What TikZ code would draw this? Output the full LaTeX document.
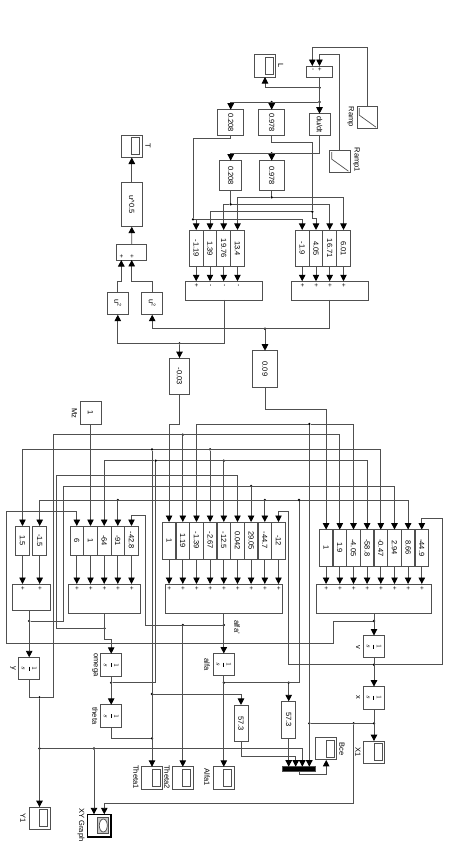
\documentclass[tikz,border=0pt]{standalone}
\usepackage{fontspec}
\setmainfont{Liberation Sans}
\usepackage{xcolor}
\usepackage{amsmath,amssymb}
\usepackage{tikz}
\usetikzlibrary{arrows.meta,positioning,calc}
\definecolor{wirecol}{HTML}{505050}
\definecolor{panel}{HTML}{C8C8C8}
\newcommand{\rot}[1]{\rotatebox{-90}{#1}}

\begin{document}
\begin{tikzpicture}[x=1pt,y=-1pt,every node/.style={font=\fontsize{7.5}{8}\selectfont,align=center,inner sep=0pt,outer sep=0pt},
  box/.style={draw=wirecol,line width=.9pt,fill=white},
  sz/.style 2 args={minimum width=#1pt,minimum height=#2pt},
  integ/.style={box,sz={21}{22.4}},
  viewer/.style={box,sz={21}{22.4},path picture={\draw[wirecol,line width=.7pt,fill=white] ([shift={(0,-8.5)}]path picture bounding box.center) rectangle ([shift={(8,8.5)}]path picture bounding box.center);}},
  lab/.style={font=\fontsize{7.5}{8}\selectfont},
  sign/.style={font=\fontsize{6.5}{7}\selectfont},
  dot/.style={circle,fill=black,minimum size=2.6pt},
  wire/.style={draw=wirecol,line width=.9pt},
  arr/.style={wire,-{Triangle[length=6.5pt,width=6.5pt,color=black]}}]
  \useasboundingbox (0,0) rectangle (450,857);

  % Length and its derivative
  \node[viewer] (scL) at (265,65.8) {};
  \node[lab] (lbL) at (280.7,66) {\rot{L}};
  \node[box,sz={26}{11}] (sumL) at (319.5,71.5) {};
  \coordinate (sumL1) at (312.3,66);
  \node[sign] (sgL1) at (312.3,69.5) {\rot{-}};
  \node[sign] (sgL2) at (319.5,69.5) {\rot{+}};
  \node[box,sz={20.7}{22.3},path picture={\draw[wirecol,line width=.7pt] ([shift={(-8,-9)}]path picture bounding box.center) -- ([shift={(-8,-2)}]path picture bounding box.center) -- ([shift={(8.7,10)}]path picture bounding box.center);}] (rp) at (367.3,117.2) {};
  \node[lab] (lbRp) at (350.7,116.7) {\rot{Ramp}};
  \node[box,sz={21}{22.3},path picture={\draw[wirecol,line width=.7pt] ([shift={(-8,-9)}]path picture bounding box.center) -- ([shift={(-8,-2)}]path picture bounding box.center) -- ([shift={(8.7,10)}]path picture bounding box.center);}] (rpa) at (339.8,161.2) {};
  \node[lab] (lbRpa) at (356.3,160) {\rot{Ramp1}};
  \node[box,sz={21}{22}] (du) at (319.5,124.7) {\rot{du/dt}};
  \node[box,sz={26.4}{26}] (kca) at (230.7,122.7) {\rot{0.208}};
  \node[box,sz={26}{26}] (ksa) at (271.7,122.7) {\rot{0.978}};
  \node[box,sz={22}{29.6}] (kcb) at (230.7,175.5) {\rot{0.208}};
  \node[box,sz={25}{29.6}] (ksb) at (271.7,175.5) {\rot{0.978}};
  \node[dot] (jd1) at (319.5,87.7) {};
  \node[dot] (jd2) at (319.5,102) {};
  \node[dot] (jd3) at (271.7,102) {};
  \node[dot] (jd4) at (271.7,153.3) {};
  \draw[arr] (rp.north) -- (367.3,47.3) -- (312.3,47.3) -- (sumL1);
  \draw[arr] (rpa.north) -- (339.8,54.7) -- (319.5,54.7) -- (sumL.north);
  \draw[arr] (sumL.south) -- (du.north);
  \draw[arr] (jd1) -- (265,87.7) -- (scL.south);
  \draw[arr] (jd2) -- (230.7,102) -- (kca.north);
  \draw[arr] (jd3) -- (ksa.north);
  \draw[arr] (du.south) -- (319.5,153.3) -- (230.7,153.3) -- (kcb.north);
  \draw[arr] (jd4) -- (ksb.north);

  % Upper gains and sums
  \node[box,sz={13.75}{36.7}] (gl1) at (196.2,248.3) {\rot{-1.19}};
  \node[box,sz={13.75}{36.7}] (gl2) at (210,248.3) {\rot{1.39}};
  \node[box,sz={13.75}{36.7}] (gl3) at (223.7,248.3) {\rot{19.76}};
  \node[box,sz={13.75}{36.7}] (gl4) at (237.5,248.3) {\rot{13.4}};
  \node[box,sz={13.75}{36.7}] (gr1) at (302.2,248.3) {\rot{-1.9}};
  \node[box,sz={13.75}{36.7}] (gr2) at (316,248.3) {\rot{4.05}};
  \node[box,sz={13.75}{36.7}] (gr3) at (329.7,248.3) {\rot{16.71}};
  \node[box,sz={13.75}{36.7}] (gr4) at (343.5,248.3) {\rot{6.01}};
  \node[box,sz={77.4}{18.7}] (sl) at (224,290.6) {};
  \node[box,sz={77}{18.7}] (sr) at (329.8,290.6) {};
  \node[sign] (sgl1) at (196.2,285.5) {\rot{+}};
  \node[sign] (sgl2) at (210,285.5) {\rot{-}};
  \node[sign] (sgl3) at (223.7,285.5) {\rot{-}};
  \node[sign] (sgl4) at (237.5,285.5) {\rot{-}};
  \node[sign] (sgr1) at (302.2,285.5) {\rot{+}};
  \node[sign] (sgr2) at (316,285.5) {\rot{+}};
  \node[sign] (sgr3) at (329.7,285.5) {\rot{+}};
  \node[sign] (sgr4) at (343.5,285.5) {\rot{+}};
  \node[dot] (jb1) at (230.7,204.3) {};
  \node[dot] (jb2) at (271.7,197.3) {};
  \node[dot] (jb3) at (193,219.3) {};
  \node[dot] (jb4) at (312.3,211.7) {};
  \draw[wire] (kcb.south) -- (jb1);
  \draw[arr] (jb1) -- (223.7,204.3) -- (gl3.north);
  \draw[arr] (jb1) -- (329.7,204.3) -- (gr3.north);
  \draw[wire] (ksb.south) -- (jb2);
  \draw[arr] (jb2) -- (237.5,197.3) -- (gl4.north);
  \draw[arr] (jb2) -- (343.5,197.3) -- (gr4.north);
  \draw[wire] (kca.south) -- (230.7,138.7) -- (193,138.7) -- (jb3);
  \draw[arr] (jb3) -- (196.2,219.3) -- (gl1.north);
  \draw[arr] (jb3) -- (302.2,219.3) -- (gr1.north);
  \draw[wire] (ksa.south) -- (271.7,142.3) -- (312.3,142.3) -- (jb4);
  \draw[arr] (jb4) -- (312.3,218) -- (316,218) -- (gr2.north);
  \draw[arr] (jb4) -- (210,211.7) -- (gl2.north);
  \draw[arr] (gl1.south) -- (gl1.south |- sl.north);
  \draw[arr] (gl2.south) -- (gl2.south |- sl.north);
  \draw[arr] (gl3.south) -- (gl3.south |- sl.north);
  \draw[arr] (gl4.south) -- (gl4.south |- sl.north);
  \draw[arr] (gr1.south) -- (gr1.south |- sr.north);
  \draw[arr] (gr2.south) -- (gr2.south |- sr.north);
  \draw[arr] (gr3.south) -- (gr3.south |- sr.north);
  \draw[arr] (gr4.south) -- (gr4.south |- sr.north);

  % Resultant T
  \node[viewer] (scT) at (131.8,146.3) {};
  \node[lab] (lbT) at (148,146) {\rot{T}};
  \node[box,sz={21}{44}] (rt) at (131.8,204.7) {\rot{u\textasciicircum 0.5}};
  \node[box,sz={30}{15.3}] (st) at (131.7,252.3) {};
  \coordinate (st1) at (121.3,260);
  \node[sign] (sgt1) at (121.3,256) {\rot{+}};
  \node[sign] (sgt2) at (131.7,256) {\rot{+}};
  \node[box,sz={21}{22.4}] (ua) at (117.8,303.5) {\rot{u\textsuperscript{2}}};
  \node[box,sz={21}{22.4}] (ub) at (152.2,303.5) {\rot{u\textsuperscript{2}}};
  \node[box,sz={20.7}{36.3}] (ka) at (179.5,376.2) {\rot{-0.03}};
  \node[box,sz={24.6}{36.6}] (kb) at (265,369) {\rot{0.09}};
  \node[dot] (jk1) at (179.5,343.3) {};
  \node[dot] (jk2) at (265,328.7) {};
  \draw[arr] (sl.south) -- (224,343.3) -- (117.8,343.3) -- (ua.south);
  \draw[arr] (sr.south) -- (329.8,328.7) -- (152.2,328.7) -- (ub.south);
  \draw[arr] (jk1) -- (ka.north);
  \draw[arr] (jk2) -- (kb.north);
  \draw[arr] (ua.north) -- (117.8,281) -- (121.3,281) -- (st1);
  \draw[arr] (ub.north) -- (152.2,281) -- (131.7,281) -- (st.south);
  \draw[arr] (st.north) -- (rt.south);
  \draw[arr] (rt.north) -- (scT.south);

  % Lower gain rows
  \node[box,sz={21}{22.5}] (mz) at (90.5,413) {\rot{1}};
  \node[lab] (lbMz) at (74.5,413) {\rot{Mz}};
  \node[box,sz={14}{29}] (gy1) at (22.5,540.5) {\rot{1.5}};
  \node[box,sz={14}{29}] (gy2) at (39.7,540.5) {\rot{-1.5}};
  \node[box,sz={13.67}{29}] (go1) at (76.8,540.5) {\rot{6}};
  \node[box,sz={13.67}{29}] (go2) at (90.5,540.5) {\rot{1}};
  \node[box,sz={13.67}{29}] (go3) at (104.2,540.5) {\rot{-64}};
  \node[box,sz={13.67}{29}] (go4) at (117.8,540.5) {\rot{-91}};
  \node[box,sz={13.67}{29}] (go5) at (131.5,540.5) {\rot{-42.8}};
  \node[box,sz={13.67}{37}] (ga1) at (169.1,540.5) {\rot{1}};
  \node[box,sz={13.67}{37}] (ga2) at (182.8,540.5) {\rot{1.19}};
  \node[box,sz={13.67}{37}] (ga3) at (196.5,540.5) {\rot{-1.39}};
  \node[box,sz={13.67}{37}] (ga4) at (210.1,540.5) {\rot{-2.67}};
  \node[box,sz={13.67}{37}] (ga5) at (223.8,540.5) {\rot{-12.5}};
  \node[box,sz={13.67}{37}] (ga6) at (237.5,540.5) {\rot{0.042}};
  \node[box,sz={13.67}{37}] (ga7) at (251.1,540.5) {\rot{29.05}};
  \node[box,sz={13.67}{37}] (ga8) at (264.8,540.5) {\rot{-44.7}};
  \node[box,sz={13.67}{37}] (ga9) at (278.5,540.5) {\rot{-12}};
  \node[box,sz={13.67}{36.4}] (gv1) at (326.1,547.8) {\rot{1}};
  \node[box,sz={13.67}{36.4}] (gv2) at (339.8,547.8) {\rot{1.9}};
  \node[box,sz={13.67}{36.4}] (gv3) at (353.5,547.8) {\rot{-4.05}};
  \node[box,sz={13.67}{36.4}] (gv4) at (367.1,547.8) {\rot{-58.8}};
  \node[box,sz={13.67}{36.4}] (gv5) at (380.8,547.8) {\rot{-0.47}};
  \node[box,sz={13.67}{36.4}] (gv6) at (394.5,547.8) {\rot{2.94}};
  \node[box,sz={13.67}{36.4}] (gv7) at (408.1,547.8) {\rot{8.66}};
  \node[box,sz={13.67}{36.4}] (gv8) at (421.8,547.8) {\rot{-44.9}};

  % Lower sums
  \node[box,sz={37.7}{26}] (sy) at (31.15,597) {};
  \node[box,sz={71.6}{29.3}] (so) at (104.5,598.65) {};
  \node[box,sz={116.3}{29.3}] (sa) at (223.85,598.65) {};
  \node[box,sz={115}{29.3}] (sv) at (374.2,598.65) {};
  \node[sign] (sgy1) at (22.5,588) {\rot{+}};
  \node[sign] (sgy2) at (39.7,588) {\rot{+}};
  \node[sign] (sgo1) at (76.8,588) {\rot{+}};
  \node[sign] (sgo2) at (90.5,588) {\rot{+}};
  \node[sign] (sgo3) at (104.2,588) {\rot{+}};
  \node[sign] (sgo4) at (117.8,588) {\rot{+}};
  \node[sign] (sgo5) at (131.5,588) {\rot{+}};
  \node[sign] (sga1) at (169.1,588) {\rot{+}};
  \node[sign] (sga2) at (182.8,588) {\rot{+}};
  \node[sign] (sga3) at (196.5,588) {\rot{+}};
  \node[sign] (sga4) at (210.1,588) {\rot{+}};
  \node[sign] (sga5) at (223.8,588) {\rot{+}};
  \node[sign] (sga6) at (237.5,588) {\rot{+}};
  \node[sign] (sga7) at (251.1,588) {\rot{+}};
  \node[sign] (sga8) at (264.8,588) {\rot{+}};
  \node[sign] (sga9) at (278.5,588) {\rot{+}};
  \node[sign] (sgv1) at (326.1,588) {\rot{+}};
  \node[sign] (sgv2) at (339.8,588) {\rot{+}};
  \node[sign] (sgv3) at (353.5,588) {\rot{+}};
  \node[sign] (sgv4) at (367.1,588) {\rot{+}};
  \node[sign] (sgv5) at (380.8,588) {\rot{+}};
  \node[sign] (sgv6) at (394.5,588) {\rot{+}};
  \node[sign] (sgv7) at (408.1,588) {\rot{+}};
  \node[sign] (sgv8) at (421.8,588) {\rot{+}};
  \draw[arr] (gy1.south) -- (gy1.south |- sy.north);
  \draw[arr] (gy2.south) -- (gy2.south |- sy.north);
  \draw[arr] (go1.south) -- (go1.south |- so.north);
  \draw[arr] (go2.south) -- (go2.south |- so.north);
  \draw[arr] (go3.south) -- (go3.south |- so.north);
  \draw[arr] (go4.south) -- (go4.south |- so.north);
  \draw[arr] (go5.south) -- (go5.south |- so.north);
  \draw[arr] (ga1.south) -- (ga1.south |- sa.north);
  \draw[arr] (ga2.south) -- (ga2.south |- sa.north);
  \draw[arr] (ga3.south) -- (ga3.south |- sa.north);
  \draw[arr] (ga4.south) -- (ga4.south |- sa.north);
  \draw[arr] (ga5.south) -- (ga5.south |- sa.north);
  \draw[arr] (ga6.south) -- (ga6.south |- sa.north);
  \draw[arr] (ga7.south) -- (ga7.south |- sa.north);
  \draw[arr] (ga8.south) -- (ga8.south |- sa.north);
  \draw[arr] (ga9.south) -- (ga9.south |- sa.north);
  \draw[arr] (gv1.south) -- (gv1.south |- sv.north);
  \draw[arr] (gv2.south) -- (gv2.south |- sv.north);
  \draw[arr] (gv3.south) -- (gv3.south |- sv.north);
  \draw[arr] (gv4.south) -- (gv4.south |- sv.north);
  \draw[arr] (gv5.south) -- (gv5.south |- sv.north);
  \draw[arr] (gv6.south) -- (gv6.south |- sv.north);
  \draw[arr] (gv7.south) -- (gv7.south |- sv.north);
  \draw[arr] (gv8.south) -- (gv8.south |- sv.north);

  % Integrators
  \node[integ] (iy) at (29.2,668.5) {\rot{$\dfrac{1}{s}$}};
  \node[lab] (lby) at (13,668.5) {\rot{y}};
  \node[integ] (io) at (111.2,665) {\rot{$\dfrac{1}{s}$}};
  \node[lab] (lbo) at (95,665) {\rot{omega}};
  \node[integ] (it) at (111.2,716) {\rot{$\dfrac{1}{s}$}};
  \node[lab] (lbt) at (95,716) {\rot{theta}};
  \node[integ] (ia) at (223.8,664.7) {\rot{$\dfrac{1}{s}$}};
  \node[lab] (lba) at (207,664.7) {\rot{alfa}};
  \node[lab] (lbad) at (237,627) {\rot{alfa'}};
  \node[integ] (iv) at (374,646.7) {\rot{$\dfrac{1}{s}$}};
  \node[lab] (lbv) at (358,647) {\rot{v}};
  \node[integ] (ix) at (374,697.8) {\rot{$\dfrac{1}{s}$}};
  \node[lab] (lbx) at (358,697) {\rot{x}};

  % Viewers and gains at the bottom
  \node[box,sz={14}{37}] (gb) at (288.7,719.8) {\rot{57.3}};
  \node[box,sz={14}{36.7}] (gc) at (241,723.3) {\rot{57.3}};
  \node[box,fill=black,sz={33.4}{4.6}] (mux) at (299,769) {};
  \coordinate (m1) at (288.7,766.7);
  \coordinate (m2) at (295.7,766.7);
  \coordinate (m3) at (302.3,766.7);
  \coordinate (m4) at (309.3,766.7);
  \node[viewer] (bce) at (326.2,748.7) {};
  \node[lab] (lbBce) at (342,749) {\rot{Bce}};
  \node[viewer] (scX) at (374,752.3) {};
  \node[lab] (lbX) at (358,752) {\rot{X1}};
  \node[viewer] (th1) at (152,778) {};
  \node[lab] (lbth1) at (136,777) {\rot{Theta1}};
  \node[viewer] (th2) at (182.8,778) {};
  \node[lab] (lbth2) at (167,777) {\rot{Theta2}};
  \node[viewer] (al1) at (223.8,778) {};
  \node[lab] (lbal1) at (207,777) {\rot{Alfa1}};
  \node[viewer] (scY) at (39.5,818.3) {};
  \node[lab] (lbY) at (23,818) {\rot{Y1}};
  \node[box,line width=1.6pt,draw=black,sz={23.3}{22.4},path picture={\draw[wirecol,line width=.7pt,fill=panel] ([shift={(-1.5,-8)}]path picture bounding box.center) rectangle ([shift={(9.5,8)}]path picture bounding box.center); \draw[wirecol,line width=.7pt,fill=white] ([xshift=4pt]path picture bounding box.center) ellipse (4pt and 6.5pt);}] (xy) at (99.3,825.5) {};
  \coordinate (xy1) at (94,814.3);
  \coordinate (xy2) at (104.3,814.3);
  \node[lab] (lbxy) at (81,825) {\rot{XY Graph}};

  % Feedback of v and x
  \node[dot] (jv1) at (374,621) {};
  \node[dot] (jv2) at (374,664.7) {};
  \node[dot] (jx1) at (309.3,424) {};
  \node[dot] (jx2) at (374,723.3) {};
  \node[dot] (jx3) at (353.7,723.3) {};
  \node[dot] (jx4) at (309.3,723.3) {};
  \draw[arr] (sv.south -| iv.north) -- (iv.north);
  \draw[arr] (jv1) -- (333,621) -- (333,643) -- (6,643) -- (6,511.7) -- (76.8,511.7) -- (go1.north);
  \draw[arr] (iv.south) -- (ix.north);
  \draw[arr] (jv2) -- (442.3,664.7) -- (442.3,518.3) -- (421.8,518.3) -- (gv8.north);
  \draw[arr] (jv2) -- (288.7,664.7) -- (288.7,511.7) -- (278.5,511.7) -- (ga9.north);
  \draw[arr] (ix.south) -- (scX.north);
  \draw[wire] (jx2) -- (jx4);
  \draw[arr] (jx1) -- (m4);
  \draw[arr] (jx1) -- (196.5,424) -- (ga3.north);
  \draw[arr] (jx1) -- (353.5,424) -- (gv3.north);
  \draw[arr] (jx3) -- (353.7,803.3) -- (104.3,803.3) -- (xy2);
  \draw[arr] (ka.south) -- (179.5,424) -- (169.1,424) -- (ga1.north);
  \draw[arr] (kb.south) -- (265,409.3) -- (326.1,409.3) -- (gv1.north);
  \draw[arr] (mz.south) -- (go2.north);

  % Feedback of alfa
  \node[dot] (ja1) at (223.8,625) {};
  \node[dot] (ja2) at (182.8,625) {};
  \node[dot] (ja3) at (223.8,682.7) {};
  \node[dot] (ja4) at (288.7,682.7) {};
  \node[dot] (ja5) at (299,500) {};
  \node[dot] (ja6) at (117.8,500) {};
  \node[dot] (ja7) at (264.8,500) {};
  \draw[arr] (sa.south -| ia.north) -- (ia.north);
  \draw[arr] (ja1) -- (145.3,625) -- (145.3,515.3) -- (131.5,515.3) -- (go5.north);
  \draw[arr] (ja2) -- (th2.north);
  \draw[arr] (ia.south) -- (al1.north);
  \draw[wire] (ja3) -- (299,682.7) -- (ja5);
  \draw[arr] (ja4) -- (gb.north);
  \draw[arr] (gb.south) -- (m1);
  \draw[arr] (ja5) -- (39.7,500) -- (gy2.north);
  \draw[arr] (ja5) -- (408.1,500) -- (gv7.north);
  \draw[arr] (ja6) -- (go4.north);
  \draw[arr] (ja7) -- (ga8.north);

  % Feedback of omega and theta
  \node[dot] (jo1) at (104.5,628.3) {};
  \node[dot] (jo2) at (111.2,682.7) {};
  \node[dot] (jo3) at (155.7,460.7) {};
  \node[dot] (jo4) at (223.8,460.7) {};
  \node[dot] (jt1) at (152,738.3) {};
  \node[dot] (jt2) at (152,449.3) {};
  \node[dot] (jt3) at (152,694) {};
  \node[dot] (jt4) at (210.1,449.3) {};
  \draw[arr] (so.south) -- (104.5,639) -- (111.2,639) -- (io.north);
  \draw[arr] (jo1) -- (56.7,628.3) -- (56.7,475) -- (237.5,475) -- (ga6.north);
  \draw[arr] (io.south) -- (it.north);
  \draw[wire] (jo2) -- (155.7,682.7) -- (jo3);
  \draw[arr] (jo3) -- (104.2,460.7) -- (go3.north);
  \draw[arr] (jo3) -- (367.1,460.7) -- (gv4.north);
  \draw[arr] (jo4) -- (ga5.north);
  \draw[wire] (it.south) -- (111.2,738.3) -- (jt1);
  \draw[arr] (jt2) -- (th1.north);
  \draw[arr] (jt3) -- (241,694) -- (gc.north);
  \draw[arr] (gc.south) -- (241,756) -- (295.7,756) -- (m2);
  \draw[arr] (jt2) -- (22.5,449.3) -- (gy1.north);
  \draw[arr] (jt2) -- (380.8,449.3) -- (gv5.north);
  \draw[arr] (jt4) -- (ga4.north);

  % Feedback of y
  \node[dot] (jy1) at (29.2,621) {};
  \node[dot] (jy2) at (39.5,697.3) {};
  \node[dot] (jy3) at (39.5,748.5) {};
  \node[dot] (jy4) at (94,748.5) {};
  \node[dot] (jy5) at (251.1,486) {};
  \node[dot] (jy6) at (182.8,434.7) {};
  \draw[arr] (sy.south -| iy.north) -- (iy.north);
  \draw[arr] (jy1) -- (63.3,621) -- (63.3,486) -- (394.5,486) -- (gv6.north);
  \draw[arr] (jy5) -- (ga7.north);
  \draw[wire] (iy.south) -- (29.2,697.3) -- (jy2);
  \draw[arr] (jy2) -- (scY.north);
  \draw[arr] (jy2) -- (53.3,697.3) -- (53.3,434.7) -- (339.8,434.7) -- (gv2.north);
  \draw[arr] (jy6) -- (ga2.north);
  \draw[arr] (jy3) -- (302.3,748.5) -- (m3);
  \draw[arr] (jy4) -- (xy1);

  % Output of the mux
  \draw[arr] (mux.south) -- (299,774.3) -- (326.2,774.3) -- (bce.south);
\end{tikzpicture}
\end{document}
